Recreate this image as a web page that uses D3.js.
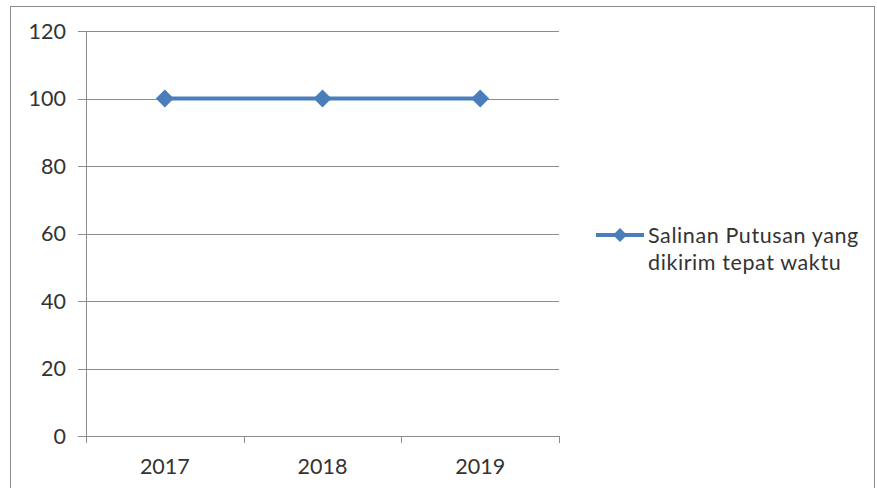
<!DOCTYPE html>
<html><head><meta charset="utf-8">
<script src="https://cdn.jsdelivr.net/npm/d3@7"></script>
<style>body{margin:0;background:#fff}svg{display:block}</style>
</head><body>
<script>
const categories = ["2017", "2018", "2019"];
const values = [100, 100, 100];
const yTicks = [0, 20, 40, 60, 80, 100, 120];
const seriesName = ["Salinan Putusan yang", "dikirim tepat waktu"];

(function () {
const W = 877, H = 488;
const svg = d3.select("body").append("svg").attr("width", W).attr("height", H);
svg.append("rect").attr("x", 10.5).attr("y", 6.5).attr("width", 864).attr("height", 490)
  .attr("fill", "#fff").attr("stroke", "#8c8c8c").attr("stroke-width", 1);

const pL = 86, pR = 559, pT = 31, pB = 436;
const x = d3.scaleBand().domain(categories).range([pL, pR]);
const y = d3.scaleLinear().domain([0, 120]).range([pB, pT]);
const font = "Lato, 'Open Sans', sans-serif";
const fs = 21.5;
const blue = "#4a7ebb";

const g = svg.append("g");
g.selectAll("line.grid").data(yTicks).join("line")
  .attr("x1", pL - 8).attr("x2", pR)
  .attr("y1", d => Math.round(y(d)) + 0.5).attr("y2", d => Math.round(y(d)) + 0.5)
  .attr("stroke", "#8c8c8c").attr("stroke-width", 1);
g.selectAll("text.yl").data(yTicks).join("text")
  .attr("x", 66).attr("y", d => y(d)).attr("dy", "0.35em")
  .attr("text-anchor", "end").attr("font-family", font).attr("font-size", fs)
  .attr("fill", "#333").text(d => d);

svg.append("line").attr("x1", pL + 0.5).attr("x2", pL + 0.5).attr("y1", pT).attr("y2", pB)
  .attr("stroke", "#8c8c8c");
const xb = categories.map(c => x(c)).concat([pR]);
svg.selectAll("line.xt").data(xb).join("line")
  .attr("x1", d => Math.round(d) + 0.5).attr("x2", d => Math.round(d) + 0.5)
  .attr("y1", pB).attr("y2", pB + 7).attr("stroke", "#8c8c8c");
svg.selectAll("text.xl").data(categories).join("text")
  .attr("x", d => x(d) + x.bandwidth() / 2).attr("y", 474)
  .attr("text-anchor", "middle").attr("font-family", font).attr("font-size", fs)
  .attr("fill", "#333").text(d => d);

const cx = (d, i) => x(categories[i]) + x.bandwidth() / 2;
const line = d3.line().x((d, i) => cx(d, i)).y(d => y(d));
svg.append("path").datum(values).attr("d", line).attr("fill", "none")
  .attr("stroke", blue).attr("stroke-width", 4);
svg.selectAll("path.pt").data(values).join("path")
  .attr("transform", (d, i) => `translate(${cx(d, i)},${y(d)})`)
  .attr("d", "M0,-9L9,0L0,9L-9,0Z").attr("fill", blue);

const ly = 235;
svg.append("line").attr("x1", 596).attr("x2", 644).attr("y1", ly).attr("y2", ly)
  .attr("stroke", blue).attr("stroke-width", 4);
svg.append("path").attr("transform", `translate(620,${ly})`).attr("d", "M0,-7L7,0L0,7L-7,0Z").attr("fill", blue);
svg.selectAll("text.lg").data(seriesName).join("text")
  .attr("x", 648).attr("y", (d, i) => 243 + i * 27)
  .attr("font-family", font).attr("font-size", fs).attr("letter-spacing", 0.6)
  .attr("fill", "#333").text(d => d);
})();
</script>
</body></html>
